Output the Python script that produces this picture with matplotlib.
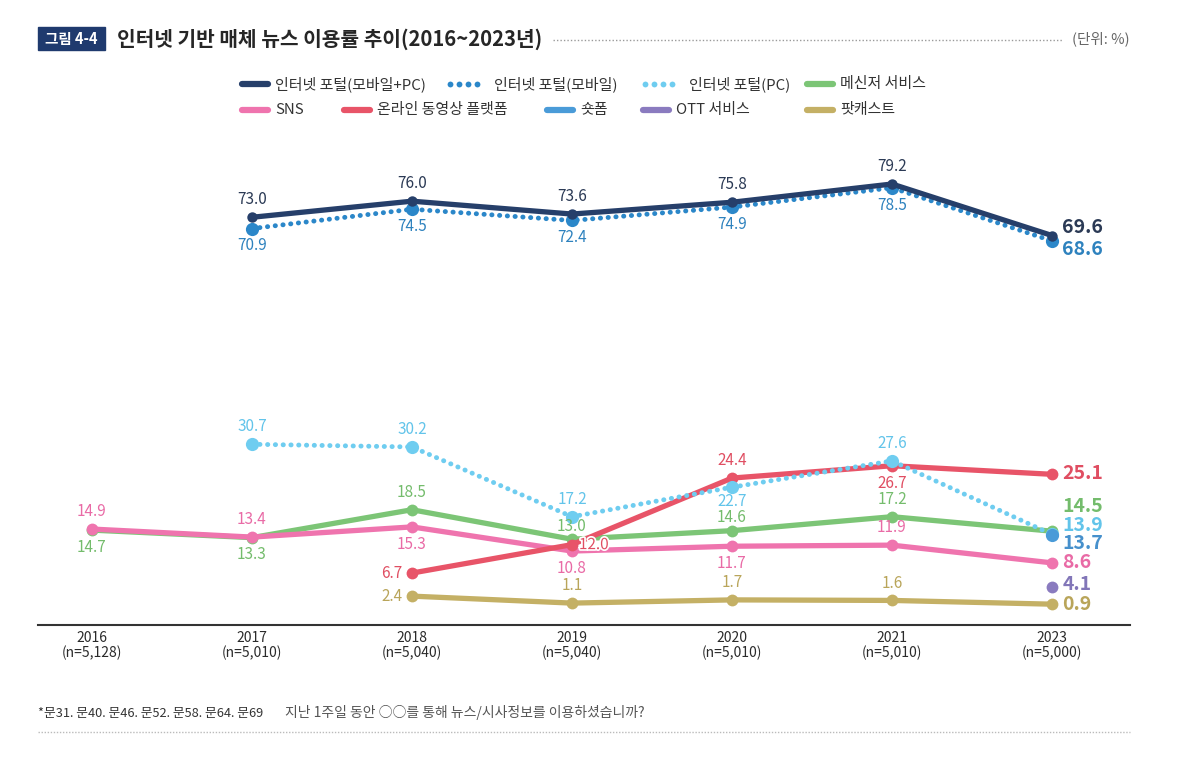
import numpy as np
import matplotlib
matplotlib.use('Agg')
import matplotlib.pyplot as plt
from matplotlib.lines import Line2D
from matplotlib.patches import Rectangle
import matplotlib.patheffects as pe

plt.rcParams['font.family'] = ['Noto Sans CJK KR', 'DejaVu Sans']

nan = np.nan
years = ['2016', '2017', '2018', '2019', '2020', '2021', '2023']
n_sizes = ['5,128', '5,010', '5,040', '5,040', '5,010', '5,010', '5,000']

portal_all = [nan, 73.0, 76.0, 73.6, 75.8, 79.2, 69.6]
portal_mobile = [nan, 70.9, 74.5, 72.4, 74.9, 78.5, 68.6]
portal_pc = [nan, 30.7, 30.2, 17.2, 22.7, 27.6, 13.9]
messenger = [14.7, 13.3, 18.5, 13.0, 14.6, 17.2, 14.5]
sns = [14.9, 13.4, 15.3, 10.8, 11.7, 11.9, 8.6]
video = [nan, nan, 6.7, 12.0, 24.4, 26.7, 25.1]
shortform = [nan, nan, nan, nan, nan, nan, 13.7]
ott = [nan, nan, nan, nan, nan, nan, 4.1]
podcast = [nan, nan, 2.4, 1.1, 1.7, 1.6, 0.9]

names = ['인터넷 포털(모바일+PC)', '인터넷 포털(모바일)', '인터넷 포털(PC)', '메신저 서비스',
         'SNS', '온라인 동영상 플랫폼', '숏폼', 'OTT 서비스', '팟캐스트']

# label placement per point: a/A = above (far/close), b/B = below, l = left, r = right, e = end (bold)
series = [
    # name, values, color, label color, dotted, marker size, placements, end dy
    ('팟캐스트', podcast, '#C4B065', '#B9A55A', False, 8.5, ['', '', 'l', 'a', 'a', 'a', 'e'], 0),
    ('메신저 서비스', messenger, '#7CC576', '#74BC6C', False, 8.5, ['b', 'b', 'a', 'A', 'A', 'a', 'e'], 18),
    ('SNS', sns, '#EF74AE', '#E96BA6', False, 8.5, ['a', 'a', 'b', 'b', 'b', 'a', 'e'], 0),
    ('온라인 동영상 플랫폼', video, '#E85468', '#E04E62', False, 8.5, ['', '', 'l', 'r', 'a', 'b', 'e'], 0.5),
    ('OTT 서비스', ott, '#8A7BBF', '#8276B8', False, 8.5, ['', '', '', '', '', '', 'e'], 2),
    ('인터넷 포털(PC)', portal_pc, '#6FCDF0', '#62C4EA', True, 9.5, ['', 'a', 'a', 'a', 'B', 'a', 'e'], 6.5),
    ('숏폼', shortform, '#4A9BD8', '#4690CC', False, 9.5, ['', '', '', '', '', '', 'e'], -6),
    ('인터넷 포털(모바일)', portal_mobile, '#2B87C9', '#2E82BE', True, 9.5, ['', 'b', 'b', 'b', 'b', 'b', 'e'], -6),
    ('인터넷 포털(모바일+PC)', portal_all, '#263F6A', '#2B3A55', False, 7.5, ['', 'a', 'a', 'a', 'a', 'a', 'e'], 5.5),
]

fig = plt.figure(figsize=(12, 7.58), dpi=100)


def fx(px):
    return px / 1200


def fy(py):
    return 1 - py / 758


ax = fig.add_axes([fx(38), fy(625), fx(1130) - fx(38), fy(140) - fy(625)])
x = np.arange(len(years))

offsets = {'a': (0, 12.5, 'center'), 'A': (0, 9.5, 'center'),
           'b': (0, -12.5, 'center'), 'B': (0, -10, 'center'),
           'l': (-7, 0, 'right'), 'r': (5, 0, 'left')}

for z, (name, vals, col, lcol, dotted, ms, place, end_dy) in enumerate(series):
    v = np.array(vals, dtype=float)
    if dotted:
        ax.plot(x, v, color=col, lw=3.5, linestyle=(0, (0.05, 1.55)),
                dash_capstyle='round', zorder=2 + z)
    else:
        ax.plot(x, v, color=col, lw=3.8, solid_capstyle='round',
                solid_joinstyle='round', zorder=2 + z)
    ax.plot(x, v, 'o', color=col, ms=ms, mew=0, zorder=2 + z)
    for i, val in enumerate(v):
        if np.isnan(val) or place[i] == '':
            continue
        p = place[i]
        txt = f'{val:.1f}'
        if p == 'e':
            ax.annotate(txt, (i, val), xytext=(7.5, end_dy), textcoords='offset points',
                        ha='left', va='center', color=lcol, fontsize=14,
                        fontweight='bold', zorder=20)
            continue
        dx, dy, ha = offsets[p]
        t = ax.annotate(txt, (i, val), xytext=(dx, dy), textcoords='offset points',
                        ha=ha, va='center', color=lcol, fontsize=11, zorder=20)
        if p == 'r':
            t.set_path_effects([pe.withStroke(linewidth=2.5, foreground='white')])

ax.set_xlim(-0.3375, 6.4875)
ax.set_ylim(-2.98, 87.4)
ax.set_xticks(x)
ax.set_xticklabels([f'{y}\n(n={n})' for y, n in zip(years, n_sizes)],
                   fontsize=10, color='#2a2a2a', linespacing=1.05, fontweight='medium')
ax.tick_params(axis='x', length=0, pad=4)
ax.set_yticks([])
for s in ['top', 'left', 'right']:
    ax.spines[s].set_visible(False)
ax.spines['bottom'].set_color('#333333')
ax.spines['bottom'].set_linewidth(1.5)

# title block
fig.patches.append(Rectangle((fx(38), fy(50)), fx(105) - fx(38), fy(27) - fy(50),
                             transform=fig.transFigure, color='#1F3A6E'))
fig.text(fx(71.5), fy(39), '그림 4-4', color='white', fontsize=10.5,
         fontweight='bold', ha='center', va='center')
fig.text(fx(117), fy(39), '인터넷 기반 매체 뉴스 이용률 추이(2016~2023년)',
         color='#262626', fontsize=14.6, fontweight='bold', ha='left', va='center')
fig.add_artist(Line2D([fx(553), fx(1063)], [fy(40), fy(40)], transform=fig.transFigure,
                      color='#9a9a9a', lw=1, linestyle=(0, (1, 1.5))))
fig.text(fx(1130), fy(39), '(단위: %)', color='#666666', fontsize=10.5,
         ha='right', va='center')

# legend drawn by hand (two rows with different spacing)
col_of = {s[0]: s[2] for s in series}
legend_items = [
    (names[0], 240, 84, False), (names[1], 446, 84, True), (names[2], 641, 84, True),
    (names[3], 805, 84, False), (names[4], 240, 110, False), (names[5], 342, 110, False),
    (names[6], 545, 110, False), (names[7], 641, 110, False), (names[8], 805, 110, False),
]
for name, hx, hy, dotted in legend_items:
    c = col_of[name]
    if dotted:
        dots_x = [fx(hx + 4 + 9 * k) for k in range(4)]
        fig.add_artist(Line2D(dots_x, [fy(hy)] * 4, transform=fig.transFigure,
                              color=c, ls='none', marker='o', ms=4.2, mew=0))
        tx = hx + 48
    else:
        fig.add_artist(Line2D([fx(hx + 2), fx(hx + 28)], [fy(hy), fy(hy)],
                              transform=fig.transFigure, color=c, lw=4.5,
                              solid_capstyle='round'))
        tx = hx + 35
    fig.text(fx(tx), fy(hy), name, color='#333333', fontsize=10.8, ha='left', va='center')

# footer
fig.text(fx(38), fy(713), '*문31. 문40. 문46. 문52. 문58. 문64. 문69', color='#333333',
         fontsize=9.2, ha='left', va='center')
fig.text(fx(285), fy(713), '지난 1주일 동안 ○○를 통해 뉴스/시사정보를 이용하셨습니까?',
         color='#555555', fontsize=10, ha='left', va='center')
fig.add_artist(Line2D([fx(38), fx(1130)], [fy(732), fy(732)], transform=fig.transFigure,
                      color='#bbbbbb', lw=1, linestyle=(0, (1, 1.2))))

fig.savefig('out.png', dpi=100, facecolor='white')
